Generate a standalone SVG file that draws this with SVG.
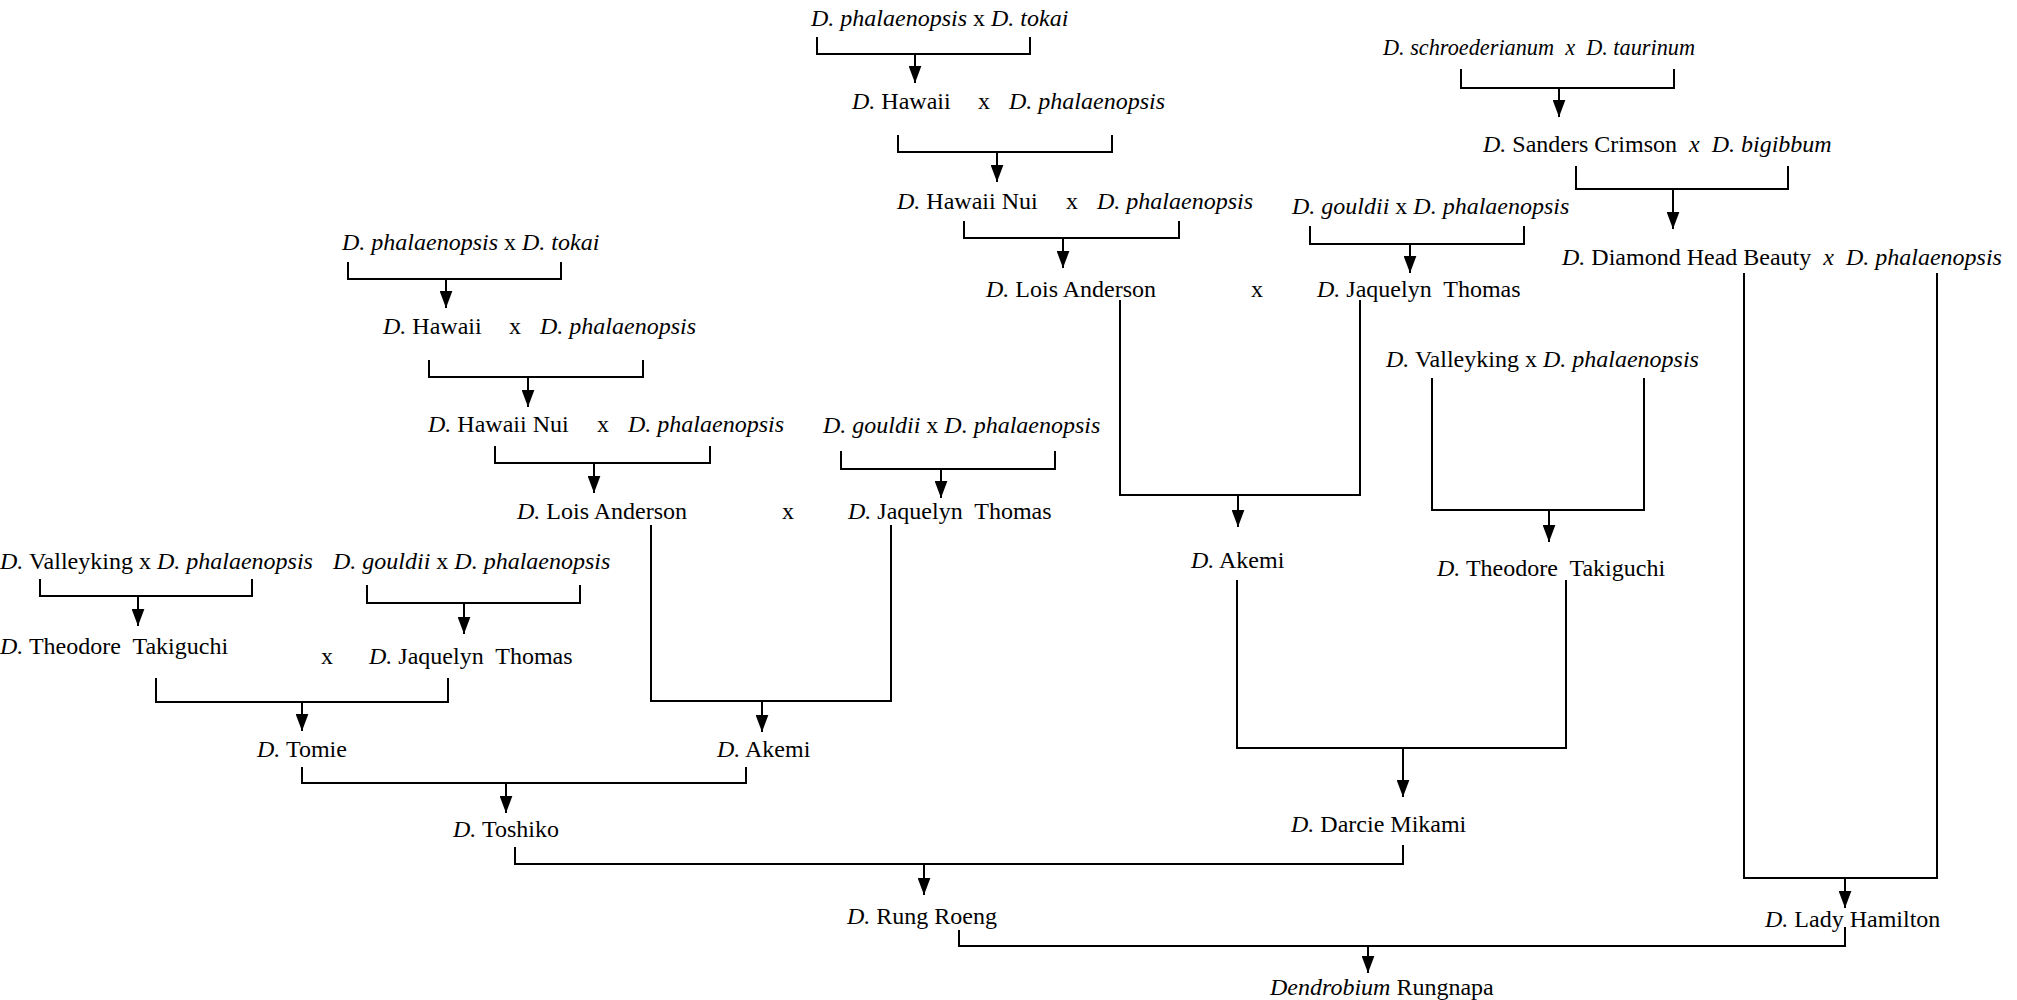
<svg xmlns="http://www.w3.org/2000/svg" width="2017" height="1000" viewBox="0 0 2017 1000">
<style>
text{font-family:"Liberation Serif","Times New Roman",serif;font-size:24px;fill:#000}
.i{font-style:italic}
.c{fill:none;stroke:#000;stroke-width:2}
.a{stroke:#000;stroke-width:2;marker-end:url(#ah)}
</style>
<defs>
<marker id="ah" viewBox="0 0 16 12" refX="16" refY="6" markerWidth="17" markerHeight="13" markerUnits="userSpaceOnUse" orient="auto">
<path d="M0,0 L16,6 L0,12 z" fill="#000"/>
</marker>
</defs>
<rect width="2017" height="1000" fill="#fff"/>
<g id="connectors">
<path class="c" d="M817,37 V54 H1030 V37"/><line class="a" x1="915" y1="54" x2="915" y2="83"/>
<path class="c" d="M898,135 V152 H1112 V135"/><line class="a" x1="997" y1="152" x2="997" y2="182"/>
<path class="c" d="M964,221 V238 H1179 V221"/><line class="a" x1="1063" y1="238" x2="1063" y2="268"/>
<path class="c" d="M1310,226 V244 H1524 V226"/><line class="a" x1="1410" y1="244" x2="1410" y2="273"/>
<path class="c" d="M1120,300 V495 H1360 V300"/><line class="a" x1="1238" y1="495" x2="1238" y2="527"/>
<path class="c" d="M1432,378 V510 H1644 V378"/><line class="a" x1="1549" y1="510" x2="1549" y2="542"/>
<path class="c" d="M1237,580 V748 H1566 V580"/><line class="a" x1="1403" y1="748" x2="1403" y2="797"/>
<path class="c" d="M1461,69 V88 H1674 V69"/><line class="a" x1="1559" y1="88" x2="1559" y2="117"/>
<path class="c" d="M1576,166 V189 H1788 V166"/><line class="a" x1="1673" y1="189" x2="1673" y2="229"/>
<path class="c" d="M1744,273 V878 H1937 V273"/><line class="a" x1="1845" y1="878" x2="1845" y2="908"/>
<path class="c" d="M348,262 V279 H561 V262"/><line class="a" x1="446" y1="279" x2="446" y2="308"/>
<path class="c" d="M429,360 V377 H643 V360"/><line class="a" x1="528" y1="377" x2="528" y2="407"/>
<path class="c" d="M495,446 V463 H710 V446"/><line class="a" x1="594" y1="463" x2="594" y2="493"/>
<path class="c" d="M841,451 V469 H1055 V451"/><line class="a" x1="941" y1="469" x2="941" y2="498"/>
<path class="c" d="M651,525 V701 H891 V525"/><line class="a" x1="762" y1="701" x2="762" y2="732"/>
<path class="c" d="M40,579 V596 H252 V579"/><line class="a" x1="138" y1="596" x2="138" y2="626"/>
<path class="c" d="M367,585 V603 H580 V585"/><line class="a" x1="464" y1="603" x2="464" y2="634"/>
<path class="c" d="M156,678 V702 H448 V678"/><line class="a" x1="302" y1="702" x2="302" y2="731"/>
<path class="c" d="M302,767 V783 H746 V767"/><line class="a" x1="506" y1="783" x2="506" y2="813"/>
<path class="c" d="M515,847 V864 H1403 V845"/><line class="a" x1="924" y1="864" x2="924" y2="895"/>
<path class="c" d="M959,930 V946 H1845 V927"/><line class="a" x1="1368" y1="946" x2="1368" y2="973"/>
</g>
<g id="n-top-phal-tokai"><text x="811" y="26"><tspan class="i">D. phalaenopsis</tspan> x <tspan class="i">D. tokai</tspan></text></g>
<g id="n-top-hawaii"><text x="852" y="109"><tspan class="i">D.</tspan> Hawaii</text><text x="984" y="109" text-anchor="middle">x</text><text x="1009" y="109" class="i">D. phalaenopsis</text></g>
<g id="n-top-hawaiinui"><text x="897" y="209"><tspan class="i">D.</tspan> Hawaii Nui</text><text x="1072" y="209" text-anchor="middle">x</text><text x="1097" y="209" class="i">D. phalaenopsis</text></g>
<g id="n-top-gouldii"><text x="1292" y="214"><tspan class="i">D. gouldii</tspan> x <tspan class="i">D. phalaenopsis</tspan></text></g>
<g id="n-top-lois-jaquelyn"><text x="986" y="297"><tspan class="i">D.</tspan> Lois Anderson</text><text x="1257" y="297" text-anchor="middle">x</text><text x="1317" y="297"><tspan class="i">D.</tspan> Jaquelyn&#160; Thomas</text></g>
<g id="n-top-akemi"><text x="1191" y="568"><tspan class="i">D.</tspan> Akemi</text></g>
<g id="n-top-valleyking"><text x="1386" y="367"><tspan class="i">D.</tspan> Valleyking x <tspan class="i">D. phalaenopsis</tspan></text></g>
<g id="n-top-theodore"><text x="1437" y="576"><tspan class="i">D.</tspan> Theodore&#160; Takiguchi</text></g>
<g id="n-darcie"><text x="1291" y="832"><tspan class="i">D.</tspan> Darcie Mikami</text></g>
<g id="n-schroederianum"><text x="1383" y="55" class="i" textLength="312" lengthAdjust="spacingAndGlyphs">D. schroederianum&#160; x&#160; D. taurinum</text></g>
<g id="n-sanders"><text x="1483" y="152"><tspan class="i">D.</tspan> Sanders Crimson&#160; <tspan class="i">x</tspan>&#160; <tspan class="i">D. bigibbum</tspan></text></g>
<g id="n-diamond"><text x="1562" y="265"><tspan class="i">D.</tspan> Diamond Head Beauty&#160; <tspan class="i">x</tspan>&#160; <tspan class="i">D. phalaenopsis</tspan></text></g>
<g id="n-lady"><text x="1765" y="927"><tspan class="i">D.</tspan> Lady Hamilton</text></g>
<g id="n-left-phal-tokai"><text x="342" y="250"><tspan class="i">D. phalaenopsis</tspan> x <tspan class="i">D. tokai</tspan></text></g>
<g id="n-left-hawaii"><text x="383" y="334"><tspan class="i">D.</tspan> Hawaii</text><text x="515" y="334" text-anchor="middle">x</text><text x="540" y="334" class="i">D. phalaenopsis</text></g>
<g id="n-left-hawaiinui"><text x="428" y="432"><tspan class="i">D.</tspan> Hawaii Nui</text><text x="603" y="432" text-anchor="middle">x</text><text x="628" y="432" class="i">D. phalaenopsis</text></g>
<g id="n-left-gouldii"><text x="823" y="433"><tspan class="i">D. gouldii</tspan> x <tspan class="i">D. phalaenopsis</tspan></text></g>
<g id="n-left-lois-jaquelyn"><text x="517" y="519"><tspan class="i">D.</tspan> Lois Anderson</text><text x="788" y="519" text-anchor="middle">x</text><text x="848" y="519"><tspan class="i">D.</tspan> Jaquelyn&#160; Thomas</text></g>
<g id="n-left-akemi"><text x="717" y="757"><tspan class="i">D.</tspan> Akemi</text></g>
<g id="n-left-valleyking"><text x="0" y="569"><tspan class="i">D.</tspan> Valleyking x <tspan class="i">D. phalaenopsis</tspan></text></g>
<g id="n-left-gouldii2"><text x="333" y="569"><tspan class="i">D. gouldii</tspan> x <tspan class="i">D. phalaenopsis</tspan></text></g>
<g id="n-left-theodore-jaquelyn"><text x="0" y="654"><tspan class="i">D.</tspan> Theodore&#160; Takiguchi</text><text x="327" y="664" text-anchor="middle">x</text><text x="369" y="664"><tspan class="i">D.</tspan> Jaquelyn&#160; Thomas</text></g>
<g id="n-tomie"><text x="257" y="757"><tspan class="i">D.</tspan> Tomie</text></g>
<g id="n-toshiko"><text x="453" y="837"><tspan class="i">D.</tspan> Toshiko</text></g>
<g id="n-rungroeng"><text x="847" y="924"><tspan class="i">D.</tspan> Rung Roeng</text></g>
<g id="n-rungnapa"><text x="1270" y="995"><tspan class="i">Dendrobium</tspan> Rungnapa</text></g>
</svg>
